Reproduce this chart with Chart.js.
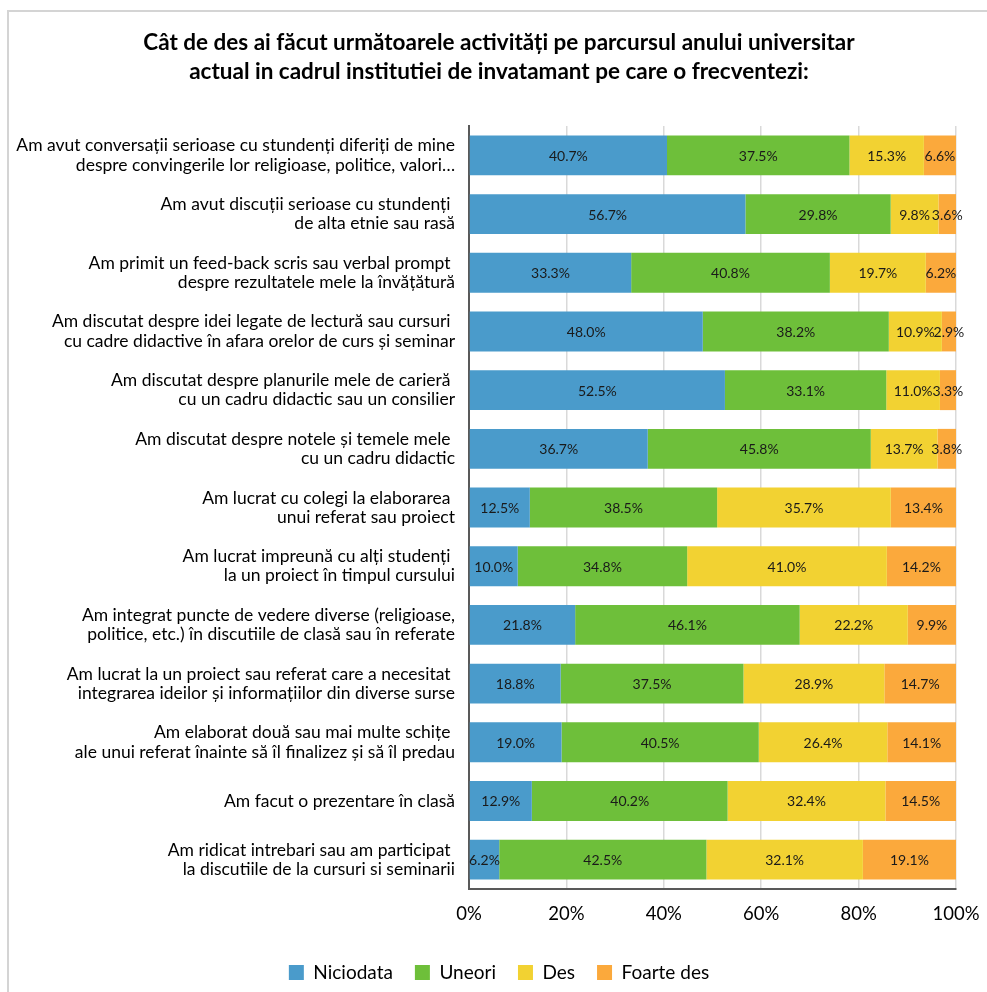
<!DOCTYPE html>
<html>
<head>
<meta charset="utf-8">
<script src="https://cdn.jsdelivr.net/npm/chart.js@4.4.1/dist/chart.umd.min.js"></script>
<style>
  html, body { margin: 0; padding: 0; background: #fff; }
  #wrap { position: relative; width: 987px; height: 992px; overflow: hidden; }
  #frame { position: absolute; left: 7px; top: 10px; width: 1100px; height: 1100px; border: 2px solid #d4d4d4; box-sizing: border-box; }
  canvas { position: absolute; left: 0; top: 0; }
</style>
</head>
<body>
<div id="wrap">
  <div id="frame"></div>
  <canvas id="c" width="987" height="992"></canvas>
</div>
<script>
const categories = [
  ["Am avut conversații serioase cu stundenți diferiți de mine", "despre convingerile lor religioase, politice, valori…"],
  ["Am avut discuții serioase cu stundenți ", "de alta etnie sau rasă"],
  ["Am primit un feed-back scris sau verbal prompt ", "despre rezultatele mele la învățătură"],
  ["Am discutat despre idei legate de lectură sau cursuri ", "cu cadre didactive în afara orelor de curs și seminar"],
  ["Am discutat despre planurile mele de carieră ", "cu un cadru didactic sau un consilier"],
  ["Am discutat despre notele și temele mele ", "cu un cadru didactic"],
  ["Am lucrat cu colegi la elaborarea ", "unui referat sau proiect"],
  ["Am lucrat impreună cu alți studenți ", "la un proiect în timpul cursului"],
  ["Am integrat puncte de vedere diverse (religioase,", "politice, etc.) în discutiile de clasă sau în referate"],
  ["Am lucrat la un proiect sau referat care a necesitat ", "integrarea ideilor și informațiilor din diverse surse"],
  ["Am elaborat două sau mai multe schițe ", "ale unui referat înainte să îl finalizez și să îl predau"],
  ["Am facut o prezentare în clasă"],
  ["Am ridicat intrebari sau am participat ", "la discutiile de la cursuri si seminarii"]
];
const seriesNames = ["Niciodata", "Uneori", "Des", "Foarte des"];
const niciodata = [40.7, 56.7, 33.3, 48.0, 52.5, 36.7, 12.5, 10.0, 21.8, 18.8, 19.0, 12.9, 6.2];
const uneori    = [37.5, 29.8, 40.8, 38.2, 33.1, 45.8, 38.5, 34.8, 46.1, 37.5, 40.5, 40.2, 42.5];
const des       = [15.3, 9.8, 19.7, 10.9, 11.0, 13.7, 35.7, 41.0, 22.2, 28.9, 26.4, 32.4, 32.1];
const foarteDes = [6.6, 3.6, 6.2, 2.9, 3.3, 3.8, 13.4, 14.2, 9.9, 14.7, 14.1, 14.5, 19.1];
const tickValues = [0, 20, 40, 60, 80, 100];
const titleLines = ["Cât de des ai făcut următoarele activități pe parcursul anului universitar",
                    "actual in cadrul institutiei de invatamant pe care o frecventezi:"];

const colors = ["#4A9BCB", "#6EBF3A", "#F2D232", "#FBA93C"];
const raw = [niciodata, uneori, des, foarteDes];
const totals = categories.map((_, i) => raw.reduce((s, a) => s + a[i], 0));

const datasets = raw.map((arr, k) => ({
  label: seriesNames[k],
  data: arr.map((v, i) => v / totals[i] * 100),
  rawValues: arr,
  backgroundColor: colors[k],
  borderWidth: 0,
  barPercentage: 0.68,
  categoryPercentage: 1.0
}));

const labelPlugin = {
  id: 'segLabels',
  afterLayout(chart) {
    // center title and legend over the framed area rather than the whole canvas
    if (chart.titleBlock) { chart.titleBlock.left = 42; chart.titleBlock.right = 956; chart.titleBlock.width = 914; }
    if (chart.legend) { chart.legend.left = 42; chart.legend.right = 956; chart.legend.width = 914; }
  },
  afterDatasetsDraw(chart) {
    const ctx = chart.ctx;
    ctx.save();
    ctx.font = '14px Lato';
    ctx.fillStyle = '#1a1a1a';
    ctx.textAlign = 'center';
    ctx.textBaseline = 'middle';
    chart.data.datasets.forEach((ds, di) => {
      chart.getDatasetMeta(di).data.forEach((bar, i) => {
        const left = Math.min(bar.x, bar.base), right = Math.max(bar.x, bar.base);
        ctx.fillText(ds.rawValues[i].toFixed(1) + '%', (left + right) / 2, bar.y + 1);
      });
    });
    ctx.restore();
  }
};

new Chart(document.getElementById('c'), {
  type: 'bar',
  data: { labels: categories, datasets },
  plugins: [labelPlugin],
  options: {
    indexAxis: 'y',
    responsive: false,
    animation: false,
    layout: { padding: { left: 0, right: 31, top: 0, bottom: 0 } },
    plugins: {
      title: {
        display: true,
        text: titleLines,
        color: '#000',
        font: { family: 'Lato', size: 22.5, weight: 'bold', lineHeight: 1.29 },
        padding: { top: 28, bottom: 40 }
      },
      legend: {
        position: 'bottom',
        labels: {
          color: '#000',
          font: { family: 'Lato', size: 19 },
          boxWidth: 15, boxHeight: 15, padding: 22
        }
      },
      tooltip: { enabled: false }
    },
    scales: {
      x: {
        stacked: true,
        min: 0, max: 100,
        afterBuildTicks(scale) { scale.ticks = tickValues.map(v => ({ value: v })); },
        ticks: {
          callback: v => v + '%',
          color: '#000',
          font: { family: 'Lato', size: 18.5 },
          padding: 14
        },
        grid: { color: '#d9d9d9', lineWidth: 1.5, drawTicks: false },
        border: { color: '#595959', width: 2 },
        afterFit(scale) { scale.height = 52; scale.paddingRight = 0; scale.paddingLeft = 0; }
      },
      y: {
        stacked: true,
        ticks: {
          color: '#000',
          font: { family: 'Lato', size: 17.5, lineHeight: 1.1 },
          padding: 14,
          autoSkip: false
        },
        grid: { display: false, drawTicks: false },
        border: { color: '#595959', width: 2 },
        afterFit(scale) { scale.width = 469; scale.paddingTop = 0; scale.paddingBottom = 0; }
      }
    }
  }
});
</script>
</body>
</html>
